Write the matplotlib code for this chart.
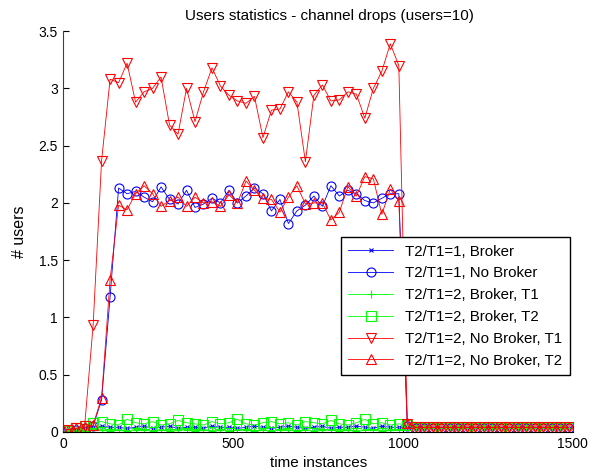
import numpy as np
import matplotlib.pyplot as plt

plt.rcParams['font.family'] = ['Liberation Sans', 'DejaVu Sans']

# sample times (60 instances)
t = np.arange(60) * 25 + 12.5

broker_1 = [0.01, 0.02, 0.03, 0.04, 0.05, 0.04, 0.04, 0.03, 0.04, 0.05, 0.03, 0.04, 0.05, 0.03, 0.04,
            0.04, 0.03, 0.05, 0.04, 0.04, 0.03, 0.04, 0.05, 0.04, 0.03, 0.04, 0.05, 0.04, 0.03, 0.04,
            0.05, 0.03, 0.04, 0.04, 0.05, 0.04, 0.03, 0.05, 0.04, 0.04, 0.04, 0.03, 0.03, 0.03, 0.03,
            0.03, 0.03, 0.03, 0.03, 0.03, 0.03, 0.03, 0.03, 0.03, 0.03, 0.03, 0.03, 0.03, 0.03, 0.03]

nobroker_1 = [0.02, 0.02, 0.03, 0.05, 0.28, 1.18, 2.13, 2.08, 2.10, 2.05, 2.01, 2.14, 2.03, 1.99, 2.11,
              1.96, 1.99, 2.04, 2.00, 2.11, 2.00, 2.06, 2.13, 2.08, 1.93, 2.03, 1.82, 1.93, 1.98, 2.06,
              1.97, 2.15, 2.06, 2.11, 2.08, 2.02, 2.00, 2.04, 2.08, 2.08, 0.05, 0.03, 0.03, 0.03, 0.03,
              0.03, 0.03, 0.03, 0.03, 0.03, 0.03, 0.03, 0.03, 0.03, 0.03, 0.03, 0.03, 0.03, 0.03, 0.03]

broker_t1 = [0.01, 0.01, 0.02, 0.02, 0.02, 0.01, 0.02, 0.01, 0.02, 0.02, 0.01, 0.02, 0.01, 0.02, 0.02,
             0.01, 0.02, 0.01, 0.02, 0.01, 0.02, 0.02, 0.01, 0.02, 0.01, 0.02, 0.02, 0.01, 0.02, 0.01,
             0.02, 0.02, 0.01, 0.02, 0.01, 0.02, 0.02, 0.01, 0.02, 0.02, 0.03, 0.03, 0.03, 0.03, 0.03,
             0.03, 0.03, 0.03, 0.03, 0.03, 0.03, 0.03, 0.03, 0.03, 0.03, 0.03, 0.03, 0.03, 0.03, 0.03]

broker_t2 = [0.01, 0.03, 0.05, 0.08, 0.09, 0.07, 0.06, 0.11, 0.08, 0.07, 0.09, 0.06, 0.07, 0.10, 0.08,
             0.07, 0.06, 0.09, 0.07, 0.08, 0.11, 0.07, 0.06, 0.08, 0.09, 0.07, 0.08, 0.06, 0.09, 0.08,
             0.07, 0.10, 0.07, 0.06, 0.08, 0.11, 0.07, 0.08, 0.06, 0.07, 0.06, 0.03, 0.03, 0.03, 0.03,
             0.03, 0.03, 0.03, 0.03, 0.03, 0.03, 0.03, 0.03, 0.03, 0.03, 0.03, 0.03, 0.03, 0.03, 0.03]

nobroker_t1 = [0.02, 0.03, 0.05, 0.93, 2.37, 3.08, 3.05, 3.22, 2.88, 2.97, 3.00, 3.10, 2.68, 2.60, 3.00,
               2.71, 2.97, 3.18, 3.02, 2.94, 2.89, 2.87, 2.93, 2.57, 2.81, 2.82, 2.97, 2.88, 2.36, 2.94,
               3.03, 2.89, 2.90, 2.97, 2.95, 2.74, 3.00, 3.15, 3.39, 3.20, 0.07, 0.04, 0.04, 0.04, 0.04,
               0.04, 0.04, 0.04, 0.04, 0.04, 0.04, 0.04, 0.04, 0.04, 0.04, 0.04, 0.04, 0.04, 0.04, 0.04]

nobroker_t2 = [0.02, 0.03, 0.04, 0.06, 0.30, 1.33, 1.98, 1.94, 2.08, 2.15, 2.08, 1.97, 2.02, 2.05, 1.97,
               2.05, 2.00, 2.01, 1.97, 2.07, 2.00, 2.19, 2.11, 2.04, 2.03, 1.92, 2.05, 2.15, 1.99, 2.00,
               2.00, 1.85, 1.92, 2.14, 2.06, 2.23, 2.21, 1.90, 2.12, 2.02, 0.08, 0.04, 0.04, 0.04, 0.04,
               0.04, 0.04, 0.04, 0.04, 0.04, 0.04, 0.04, 0.04, 0.04, 0.04, 0.04, 0.04, 0.04, 0.04, 0.04]

labels = ['T2/T1=1, Broker', 'T2/T1=1, No Broker', 'T2/T1=2, Broker, T1',
          'T2/T1=2, Broker, T2', 'T2/T1=2, No Broker, T1', 'T2/T1=2, No Broker, T2']

fig = plt.figure(figsize=(5.98, 4.72), dpi=100)
ax = fig.add_axes([0.106, 0.085, 0.852, 0.849])

lw = 0.6
ax.plot(t, broker_1, color='b', marker='x', ms=3.5, mew=0.8, lw=lw, label=labels[0])
ax.plot(t, nobroker_1, color='b', marker='o', ms=6.5, mfc='none', mew=0.8, lw=lw, label=labels[1])
ax.plot(t, broker_t1, color='#00ff00', marker='+', ms=6, mew=0.8, lw=lw, label=labels[2])
ax.plot(t, broker_t2, color='#00ff00', marker='s', ms=6.5, mfc='none', mew=0.8, lw=lw, label=labels[3])
ax.plot(t, nobroker_t1, color='r', marker='v', ms=7, mfc='none', mew=0.8, lw=lw, label=labels[4])
ax.plot(t, nobroker_t2, color='r', marker='^', ms=7, mfc='none', mew=0.8, lw=lw, label=labels[5])

ax.set_xlim(0, 1500)
ax.set_ylim(0, 3.5)
ax.set_xticks([0, 500, 1000, 1500])
ax.set_yticks(np.arange(0, 3.51, 0.5))
ax.set_yticklabels(['0', '0.5', '1', '1.5', '2', '2.5', '3', '3.5'])
ax.tick_params(direction='in', length=4, labelsize=10, colors='black', pad=4)
ax.spines['top'].set_visible(False)
ax.spines['right'].set_visible(False)
ax.spines['left'].set_color('#404040')

ax.set_title('Users statistics - channel drops (users=10)', fontsize=11, pad=8, x=0.523)
ax.set_xlabel('time instances', fontsize=11, labelpad=3)
ax.set_ylabel('# users', fontsize=11.5, labelpad=8)

leg = ax.legend(loc='upper right', bbox_to_anchor=(0.994, 0.486), fontsize=10.8,
                fancybox=False, edgecolor='black', framealpha=1, borderaxespad=0,
                handlelength=3.0, labelspacing=0.52, borderpad=0.5)
leg.get_frame().set_linewidth(1.0)

fig.savefig('out.png', dpi=100)
